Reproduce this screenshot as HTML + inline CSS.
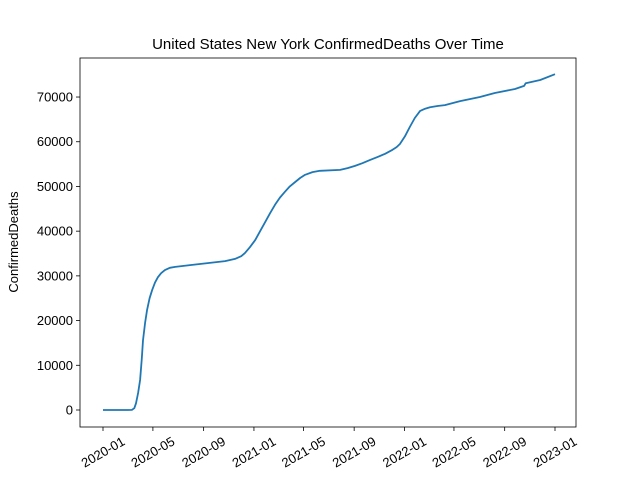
<!DOCTYPE html>
<html><head><meta charset="utf-8"><style>
body{margin:0;background:#fff;}
svg{display:block;font-family:"Liberation Sans","DejaVu Sans",sans-serif;}
</style></head><body>
<svg id="chart" width="640" height="480"></svg>
<script>
const dayOffsets=[0,60,70,76,80,85,90,94,97,102,107,113,119,126,133,141,150,162,175,211,259,296,320,335,344,356,369,381,393,405,417,429,441,453,466,478,490,508,526,575,593,611,629,647,666,684,702,712,720,732,744,756,769,781,793,811,829,866,914,950,999,1021,1025,1060,1096];
const deaths=[0,0,20,400,1500,3800,6700,11500,15600,19500,22400,25000,26800,28500,29700,30600,31300,31800,32000,32400,32900,33300,33800,34400,35100,36400,38000,40000,42000,44000,45900,47500,48800,50000,51000,51900,52600,53200,53500,53700,54100,54600,55200,55900,56600,57300,58200,58800,59500,61200,63300,65300,66900,67400,67700,68000,68200,69100,70000,70900,71800,72500,73100,73800,75100];
const yTicks=[0,10000,20000,30000,40000,50000,60000,70000];
const xTickLabels=["2020-01","2020-05","2020-09","2021-01","2021-05","2021-09","2022-01","2022-05","2022-09","2023-01"];
const xTickDays=[0,121,244,366,486,609,731,851,974,1096];

const L=80,R=576,T=58,B=427;
const xS=d=>103+d/1096*452;
const yS=v=>410-v/10000*44.71;
const svg=document.getElementById('chart');
const NS="http://www.w3.org/2000/svg";
function mk(tag,attrs,parent){const e=document.createElementNS(NS,tag);for(const k in attrs)e.setAttribute(k,attrs[k]);(parent||svg).appendChild(e);return e;}

const title=mk('text',{x:328,y:49,'text-anchor':'middle','font-size':15,fill:'#000'});
title.textContent='United States New York ConfirmedDeaths Over Time';



const yl=mk('text',{x:18,y:242,'text-anchor':'middle','font-size':13,transform:'rotate(-90 18 242)'});
yl.textContent='ConfirmedDeaths';



yTicks.forEach(v=>{
  const y=yS(v);
  const t=mk('line',{x1:L-4,x2:L,y1:y,y2:y,stroke:'#000','stroke-width':0.8});
  
  
  const l=mk('text',{x:L-7,y:y+4.5,'text-anchor':'end','font-size':13});
  l.textContent=v;
  
  
});
xTickDays.forEach((d,i)=>{
  const x=xS(d);
  const t=mk('line',{x1:x,x2:x,y1:B,y2:B+4,stroke:'#000','stroke-width':0.8});
  
  
  const cy=B+25;
  const l=mk('text',{x:x,y:cy+4.5,'text-anchor':'middle','font-size':13,transform:`rotate(-30 ${x} ${cy})`});
  l.textContent=xTickLabels[i];
  
  
});

const pts=dayOffsets.map((d,i)=>xS(d).toFixed(1)+','+yS(deaths[i]).toFixed(1)).join(' ');
const line=mk('polyline',{points:pts,fill:'none',stroke:'#1f77b4','stroke-width':1.8,'stroke-linejoin':'round'});



const frame=mk('rect',{x:L,y:T,width:R-L,height:B-T,fill:'none',stroke:'#000','stroke-width':0.8});


</script>
</body></html>
